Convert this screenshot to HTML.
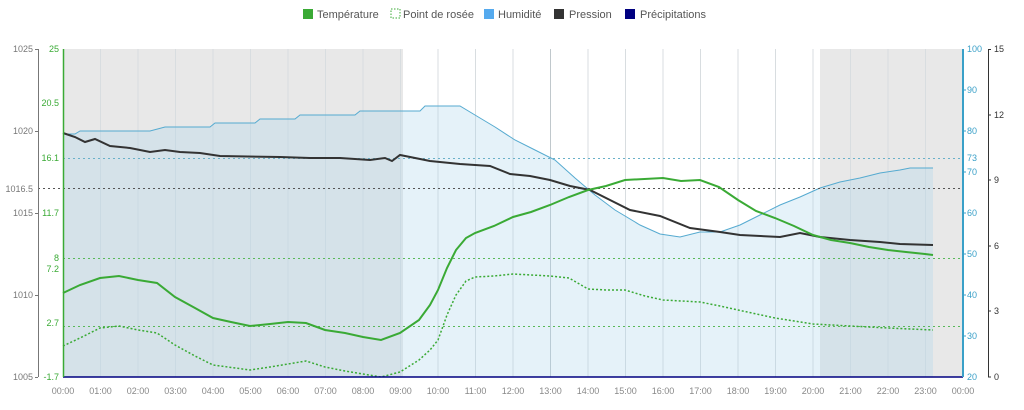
<!DOCTYPE html>
<html><head><meta charset="utf-8"><style>
html,body{margin:0;padding:0;background:#fff;}
svg{display:block;font-family:"Liberation Sans",sans-serif;}
</style></head><body>
<svg width="1024" height="410" viewBox="0 0 1024 410">
<!-- legend -->
<g font-size="11" fill="#555">
<rect x="303" y="9" width="10" height="10" fill="#3aaa35"/><text x="317" y="18">Température</text>
<rect x="391" y="9" width="9" height="9" fill="none" stroke="#3aaa35" stroke-dasharray="1.5,1.5"/><text x="403" y="18">Point de rosée</text>
<rect x="484" y="9" width="10" height="10" fill="#55aaee"/><text x="498" y="18">Humidité</text>
<rect x="554" y="9" width="10" height="10" fill="#333"/><text x="569" y="18">Pression</text>
<rect x="625" y="9" width="10" height="10" fill="#000080"/><text x="640" y="18">Précipitations</text>
</g>
<!-- night shading -->
<rect x="63" y="49" width="340" height="328" fill="#e8e8e8"/>
<rect x="820" y="49" width="143" height="328" fill="#e8e8e8"/>
<!-- hourly grid -->
<g stroke="#d8dde0" stroke-width="1">
<line x1="100.5" y1="49" x2="100.5" y2="377"/><line x1="138" y1="49" x2="138" y2="377"/><line x1="175.5" y1="49" x2="175.5" y2="377"/><line x1="213" y1="49" x2="213" y2="377"/><line x1="250.5" y1="49" x2="250.5" y2="377"/><line x1="288" y1="49" x2="288" y2="377"/><line x1="325.5" y1="49" x2="325.5" y2="377"/><line x1="363" y1="49" x2="363" y2="377"/><line x1="400.5" y1="49" x2="400.5" y2="377"/><line x1="438" y1="49" x2="438" y2="377"/><line x1="475.5" y1="49" x2="475.5" y2="377"/><line x1="513" y1="49" x2="513" y2="377"/><line x1="550.5" y1="49" x2="550.5" y2="377" stroke="#c0c8cc"/><line x1="588" y1="49" x2="588" y2="377"/><line x1="625.5" y1="49" x2="625.5" y2="377"/><line x1="663" y1="49" x2="663" y2="377"/><line x1="700.5" y1="49" x2="700.5" y2="377"/><line x1="738" y1="49" x2="738" y2="377"/><line x1="775.5" y1="49" x2="775.5" y2="377"/><line x1="813" y1="49" x2="813" y2="377"/><line x1="850.5" y1="49" x2="850.5" y2="377"/><line x1="888" y1="49" x2="888" y2="377"/><line x1="925.5" y1="49" x2="925.5" y2="377"/>
</g>
<!-- humidity area -->
<path d="M63,134 L75,134 L80,131 L150,131 L165,127 L210,127 L215,123 L255,123 L260,119 L295,119 L300,115 L355,115 L360,111 L420,111 L425,106 L460,106 L475,115 L495,127 L515,140 L535,150 L555,160 L575,178 L595,195 L615,210 L640,225 L660,234 L680,237 L700,232 L720,232 L740,225 L760,215 L780,205 L800,197 L820,188 L840,182 L860,178 L880,173 L900,170 L910,168 L933,168 L933,377 L63,377 Z" fill="#a8d4ec" fill-opacity="0.3"/>
<path d="M63,134 L75,134 L80,131 L150,131 L165,127 L210,127 L215,123 L255,123 L260,119 L295,119 L300,115 L355,115 L360,111 L420,111 L425,106 L460,106 L475,115 L495,127 L515,140 L535,150 L555,160 L575,178 L595,195 L615,210 L640,225 L660,234 L680,237 L700,232 L720,232 L740,225 L760,215 L780,205 L800,197 L820,188 L840,182 L860,178 L880,173 L900,170 L910,168 L933,168" fill="none" stroke="#55aad0" stroke-width="1"/>
<!-- dashed reference lines -->
<line x1="63" y1="158.5" x2="963" y2="158.5" stroke="#6ab0c8" stroke-dasharray="2,3"/>
<line x1="38" y1="188.5" x2="963" y2="188.5" stroke="#555" stroke-dasharray="2,3"/>
<line x1="63" y1="258.5" x2="963" y2="258.5" stroke="#5ab85a" stroke-dasharray="2,3"/>
<line x1="63" y1="326.5" x2="963" y2="326.5" stroke="#5ab85a" stroke-dasharray="2,3"/>
<!-- pressure -->
<polyline fill="none" stroke="#333" stroke-width="2" points="63,133 75,137 85,142 95,139 110,146 130,148 150,152 165,150 180,152 200,153 220,156 280,157 310,158 340,158 370,160 385,158 392,161 400,155 430,161 460,164 490,166 510,174 530,176 550,180 570,186 590,190 610,200 630,210 660,216 690,228 720,232 740,235 780,237 800,233 820,237 850,240 880,242 900,244 933,245"/>
<!-- temperature -->
<polyline fill="none" stroke="#3aaa35" stroke-width="2" points="63,293 80,285 100,278 119,276 138,280 157,283 175,297 195,308 213,318 231,322 250,326 270,324 288,322 306,323 325,330 345,333 363,337 381,340 400,333 419,320 430,305 438,290 447,268 456,250 466,238 475,233 494,226 513,217 531,212 550,205 569,197 588,190 606,186 625,180 663,178 681,181 700,180 719,187 738,200 756,211 775,218 794,226 813,235 831,240 850,243 869,247 888,250 906,252 925,254 933,255"/>
<!-- dew point -->
<polyline fill="none" stroke="#3aaa35" stroke-width="1.5" stroke-dasharray="2,2" points="63,346 80,338 100,328 119,326 138,330 157,333 175,345 195,356 213,365 250,370 270,367 288,364 306,361 325,367 345,371 363,374 381,377 400,372 419,360 430,350 438,340 447,315 456,295 466,281 475,277 494,276 513,274 550,276 569,278 588,289 606,290 625,290 645,296 663,300 700,302 720,306 738,310 775,318 813,324 850,326 888,328 933,330"/>
<!-- precipitation -->
<line x1="63" y1="377" x2="963" y2="377" stroke="#000080" stroke-width="1.5"/>
<!-- axes -->
<line x1="38.5" y1="49" x2="38.5" y2="377" stroke="#777"/>
<line x1="63.5" y1="49" x2="63.5" y2="377" stroke="#3aaa35" stroke-width="1.5"/>
<line x1="963" y1="49" x2="963" y2="377" stroke="#3aa0c8" stroke-width="2"/>
<line x1="988.5" y1="49" x2="988.5" y2="377" stroke="#333"/>
<g font-size="9" fill="#777" text-anchor="end">
<text x="33" y="52">1025</text><text x="33" y="134">1020</text><text x="33" y="192">1016.5</text><text x="33" y="216">1015</text><text x="33" y="298">1010</text><text x="33" y="380">1005</text>
</g>
<g stroke="#777"><line x1="35" y1="49.5" x2="38" y2="49.5"/><line x1="35" y1="131.5" x2="38" y2="131.5"/><line x1="35" y1="213.5" x2="38" y2="213.5"/><line x1="35" y1="295.5" x2="38" y2="295.5"/><line x1="35" y1="377.5" x2="38" y2="377.5"/></g>
<g font-size="9" fill="#3aaa35" text-anchor="end">
<text x="59" y="52">25</text><text x="59" y="106">20.5</text><text x="59" y="161">16.1</text><text x="59" y="216">11.7</text><text x="59" y="261">8</text><text x="59" y="272">7.2</text><text x="59" y="326">2.7</text><text x="59" y="380">-1.7</text>
</g>
<g font-size="9" fill="#3aa0c8">
<text x="967" y="52">100</text><text x="967" y="93">90</text><text x="967" y="134">80</text><text x="967" y="161">73</text><text x="967" y="175">70</text><text x="967" y="216">60</text><text x="967" y="257">50</text><text x="967" y="298">40</text><text x="967" y="339">30</text><text x="967" y="380">20</text>
</g>
<g stroke="#3aa0c8"><line x1="963" y1="90" x2="966" y2="90"/><line x1="963" y1="131" x2="966" y2="131"/><line x1="963" y1="172" x2="966" y2="172"/><line x1="963" y1="213" x2="966" y2="213"/><line x1="963" y1="254" x2="966" y2="254"/><line x1="963" y1="295" x2="966" y2="295"/><line x1="963" y1="336" x2="966" y2="336"/></g>
<g font-size="9" fill="#333">
<text x="994" y="52">15</text><text x="994" y="118">12</text><text x="994" y="183">9</text><text x="994" y="249">6</text><text x="994" y="314">3</text><text x="994" y="380">0</text>
</g>
<g stroke="#333"><line x1="988" y1="49.5" x2="991" y2="49.5"/><line x1="988" y1="115" x2="991" y2="115"/><line x1="988" y1="180" x2="991" y2="180"/><line x1="988" y1="246" x2="991" y2="246"/><line x1="988" y1="311" x2="991" y2="311"/><line x1="988" y1="377" x2="991" y2="377"/></g>
<g font-size="9" fill="#888" text-anchor="middle">
<text x="63" y="394">00:00</text><text x="100.5" y="394">01:00</text><text x="138" y="394">02:00</text><text x="175.5" y="394">03:00</text><text x="213" y="394">04:00</text><text x="250.5" y="394">05:00</text><text x="288" y="394">06:00</text><text x="325.5" y="394">07:00</text><text x="363" y="394">08:00</text><text x="400.5" y="394">09:00</text><text x="438" y="394">10:00</text><text x="475.5" y="394">11:00</text><text x="513" y="394">12:00</text><text x="550.5" y="394">13:00</text><text x="588" y="394">14:00</text><text x="625.5" y="394">15:00</text><text x="663" y="394">16:00</text><text x="700.5" y="394">17:00</text><text x="738" y="394">18:00</text><text x="775.5" y="394">19:00</text><text x="813" y="394">20:00</text><text x="850.5" y="394">21:00</text><text x="888" y="394">22:00</text><text x="925.5" y="394">23:00</text><text x="963" y="394">00:00</text>
</g>
</svg>
</body></html>
